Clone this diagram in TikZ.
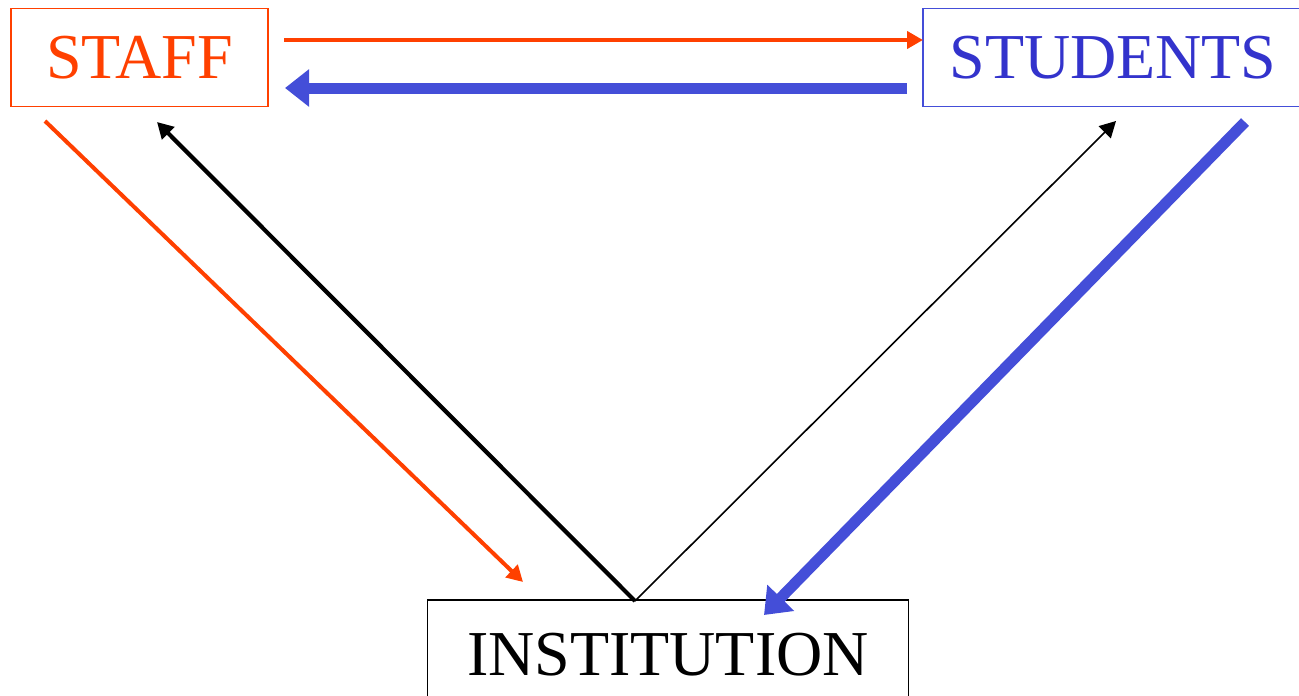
\documentclass[tikz,border=0pt]{standalone}
\usepackage{fontspec}
\setmainfont{Liberation Serif}
\usetikzlibrary{arrows.meta}
\definecolor{sorange}{RGB}{255,64,0}
\definecolor{sblue}{RGB}{68,78,216}
\definecolor{sbluetext}{RGB}{51,51,204}
\tikzset{
  box/.style={draw, line width=1.5pt, minimum height=98pt, inner sep=0pt, font=\fontsize{64}{70}\selectfont},
  thinor/.style={sorange, line width=4pt, -{Triangle[length=16pt,width=17pt]}},
  thickbl/.style={sblue, line width=11pt, -{Triangle[length=24pt,width=36pt]}},
  blackmid/.style={black, line width=4.2pt, -{Triangle[length=16pt,width=17pt]}},
  blackthin/.style={black, line width=1.6pt, -{Triangle[length=16pt,width=17pt]}},
}
\begin{document}
\begin{tikzpicture}[x=1pt,y=-1pt]
\useasboundingbox (0,0) rectangle (1299,696);
\node[box, draw=sorange, text=sorange, minimum width=257pt] (staff) at (139.5,57.5) {STAFF};
\node[box, draw=sblue, text=sbluetext, minimum width=380pt] (students) at (1113,57.5) {STUDENTS};
\node[box, draw=black, text=black, minimum width=481pt, minimum height=110pt] (inst) at (668,655) {INSTITUTION};
\coordinate (a1) at (284,40);
\coordinate (a2) at (923,40);
\coordinate (b1) at (907,88);
\coordinate (b2) at (285,88);
\coordinate (c1) at (45,121);
\coordinate (c2) at (523,582);
\coordinate (d1) at (635,601);
\coordinate (d2) at (157,122);
\coordinate (e2) at (1116,121);
\coordinate (f1) at (1245,122);
\coordinate (f2) at (764,615);
\draw[thinor] (a1) -- (a2);
\draw[thickbl] (b1) -- (b2);
\draw[thinor] (c1) -- (c2);
\draw[blackmid] (d1) -- (d2);
\draw[blackthin] (d1) -- (e2);
\draw[thickbl] (f1) -- (f2);
\end{tikzpicture}
\end{document}
